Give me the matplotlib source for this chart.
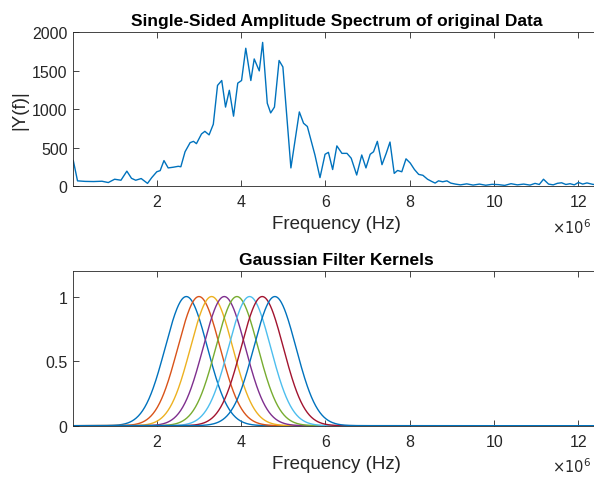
import numpy as np
import matplotlib
matplotlib.use('Agg')
import matplotlib.pyplot as plt

plt.rcParams['font.family'] = ['Liberation Sans', 'DejaVu Sans']

# spectrum (MHz, |Y(f)|)
freq_mhz = [0.02, 0.12, 0.3, 0.5, 0.7, 0.85, 1.0, 1.15, 1.29, 1.40, 1.50, 1.63, 1.78, 1.88,
            2.00, 2.08, 2.17, 2.27, 2.39, 2.51, 2.57, 2.67, 2.79, 2.87, 2.94, 3.06, 3.14, 3.24,
            3.34, 3.44, 3.54, 3.63, 3.72, 3.82, 3.92, 4.01, 4.11, 4.23, 4.31, 4.43, 4.51, 4.62,
            4.70, 4.79, 4.90, 4.99, 5.18, 5.38, 5.48, 5.57, 5.75, 5.87, 5.99, 6.07, 6.17, 6.27,
            6.39, 6.51, 6.61, 6.74, 6.86, 6.96, 7.06, 7.14, 7.23, 7.34, 7.44, 7.53, 7.63, 7.71,
            7.81, 7.91, 8.01, 8.11, 8.21, 8.31, 8.42, 8.52, 8.60, 8.68, 8.78, 8.88, 8.97, 9.08,
            9.2, 9.35, 9.5, 9.65, 9.8, 9.95, 10.1, 10.25, 10.4, 10.55, 10.7, 10.85, 10.97, 11.07,
            11.17, 11.29, 11.4, 11.5, 11.6, 11.7, 11.8, 11.9, 12.0, 12.1, 12.2, 12.35, 12.5]
amp = [330, 67, 60, 58, 62, 45, 88, 75, 193, 100, 75, 97, 34, 109,
       185, 200, 330, 235, 244, 256, 250, 445, 563, 580, 550, 676, 710, 664,
       802, 1306, 1370, 1025, 1243, 907, 1336, 1370, 1789, 1370, 1650, 1495, 1865, 1075,
       949, 1025, 1630, 1546, 235, 962, 815, 773, 403, 109, 412, 437, 214, 521,
       424, 424, 361, 143, 403, 235, 412, 445, 580, 277, 424, 571, 164, 202,
       185, 353, 298, 214, 151, 139, 88, 59, 38, 67, 55, 67, 38, 25,
       15, 28, 12, 25, 10, 22, 18, 8, 30, 15, 25, 12, 34, 20,
       88, 25, 15, 35, 42, 20, 30, 15, 46, 25, 40, 20, 30]

# gaussian kernels: centres and width (MHz)
centres_mhz = [2.7, 3.0, 3.3, 3.6, 3.9, 4.2, 4.5, 4.8]
sigma_mhz = 0.5

colors = ['#0072BD', '#D95319', '#EDB120', '#7E2F8E', '#77AC30', '#4DBEEE', '#A2142F', '#0072BD']
dark = '#262626'

f = np.array(freq_mhz) * 1e6
fk = np.linspace(0, 12.5e6, 1000)

fig = plt.figure(figsize=(5.94, 4.81), dpi=100)
ax1 = fig.add_axes([0.1234, 0.6112, 0.886, 0.3202])
ax2 = fig.add_axes([0.1234, 0.1129, 0.886, 0.3222])

ax1.plot(f, amp, color='#0072BD', lw=1.0)
ax1.set_ylim(0, 2000)
ax1.set_yticks([0, 500, 1000, 1500, 2000])
ax1.set_title('Single-Sided Amplitude Spectrum of original Data', fontsize=12.5, fontweight='bold', pad=5)
ax1.set_ylabel('|Y(f)|', fontsize=13.5, color=dark, labelpad=3)

for c, col in zip(centres_mhz, colors):
    ax2.plot(fk, np.exp(-0.5 * ((fk - c * 1e6) / (sigma_mhz * 1e6)) ** 2), color=col, lw=1.0)
ax2.set_ylim(0, 1.2)
ax2.set_yticks([0, 0.5, 1])
ax2.set_yticklabels(['0', '0.5', '1'])
ax2.set_title('Gaussian Filter Kernels', fontsize=12.5, fontweight='bold', pad=5)

for ax in (ax1, ax2):
    ax.set_xlim(0.02e6, 12.5e6)
    ax.set_xticks(np.arange(2, 13, 2) * 1e6)
    ax.set_xticklabels([str(v) for v in range(2, 13, 2)])
    ax.set_xlabel('Frequency (Hz)', fontsize=13.5, color=dark, labelpad=4)
    ax.tick_params(direction='in', top=True, right=True, labelsize=11.5, colors=dark, length=4, width=0.6)
    ax.tick_params(axis='x', pad=6)
    ax.tick_params(axis='y', pad=4)
    for s in ax.spines.values():
        s.set_color(dark)
        s.set_linewidth(0.6)
    ax.text(0.983, -0.2, r'$\times10^6$', transform=ax.transAxes, fontsize=10.5,
            color=dark, va='top', ha='right')

fig.savefig('out.png', dpi=100)
